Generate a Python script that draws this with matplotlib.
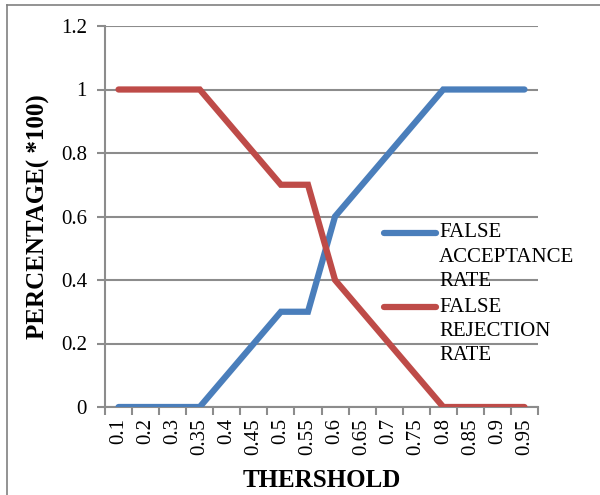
import matplotlib
matplotlib.use("Agg")
import matplotlib.pyplot as plt
from matplotlib.lines import Line2D

thresholds = ["0.1", "0.2", "0.3", "0.35", "0.4", "0.45", "0.5", "0.55",
              "0.6", "0.65", "0.7", "0.75", "0.8", "0.85", "0.9", "0.95"]
far = [0, 0, 0, 0, 0.1, 0.2, 0.3, 0.3, 0.6, 0.7, 0.8, 0.9, 1, 1, 1, 1]
frr = [1, 1, 1, 1, 0.9, 0.8, 0.7, 0.7, 0.4, 0.3, 0.2, 0.1, 0, 0, 0, 0]
series_names = [["FALSE", "ACCEPTANCE", "RATE"], ["FALSE", "REJECTION", "RATE"]]
colors = ["#4a7ebb", "#be4b48"]

plt.rcParams["font.family"] = ["Liberation Serif", "DejaVu Serif"]
grid_col = "#8c8c8c"

fig = plt.figure(figsize=(6, 4.95), dpi=100)
ax = fig.add_axes([105 / 600, 1 - 407 / 495, 433 / 600, 381 / 495])

x = list(range(len(thresholds)))
ax.plot(x, far, color=colors[0], lw=4.5, solid_capstyle="round", solid_joinstyle="miter", zorder=3)
ax.plot(x, frr, color=colors[1], lw=4.5, solid_capstyle="round", solid_joinstyle="miter", zorder=3)

ax.set_xlim(-0.5, len(thresholds) - 0.5)
ax.set_ylim(0, 1.2)
ax.set_yticks([0, 0.2, 0.4, 0.6, 0.8, 1, 1.2])
ax.set_yticklabels(["0", "0.2", "0.4", "0.6", "0.8", "1", "1.2"], fontsize=15)
ax.set_xticks(x)
ax.set_xticklabels(thresholds, rotation=90, fontsize=15)
ax.set_xticks([i - 0.5 for i in range(len(thresholds) + 1)], minor=True)
ax.tick_params(axis="x", which="major", length=0, pad=8)
ax.tick_params(axis="x", which="minor", length=6, color=grid_col, width=1.5)
ax.tick_params(axis="y", length=6, color=grid_col, width=1.5, pad=7)
ax.yaxis.grid(True, color=grid_col, lw=1.5)
ax.set_axisbelow(True)
for side in ["top", "right"]:
    ax.spines[side].set_visible(False)
for side in ["left", "bottom"]:
    ax.spines[side].set_color(grid_col)
    ax.spines[side].set_linewidth(1.5)

ax.set_xlabel("THERSHOLD", fontsize=18, fontweight="bold", labelpad=10)
ax.set_ylabel("PERCENTAGE( *100)", fontsize=18, fontweight="bold", labelpad=8)

# legend drawn by hand: key line sits beside the first text line
leg_top = [233, 307]
for name, col, top in zip(series_names, colors, leg_top):
    fig.add_artist(Line2D([384 / 600, 436 / 600], [1 - top / 495] * 2, transform=fig.transFigure,
                          color=col, lw=4.5, solid_capstyle="round"))
    for k, word in enumerate(name):
        fig.text(439 / 600, 1 - (top + 24.5 * k) / 495, word, fontsize=15,
                 ha="left", va="center")

# frame lines at left and top of the picture
fig.add_artist(Line2D([7 / 600, 7 / 600], [0, 1 - 5 / 495], transform=fig.transFigure,
                      color="#808080", lw=1.2))
fig.add_artist(Line2D([7 / 600, 1], [1 - 5 / 495, 1 - 5 / 495], transform=fig.transFigure,
                      color="#808080", lw=1.2))

fig.savefig("out.png", dpi=100)
